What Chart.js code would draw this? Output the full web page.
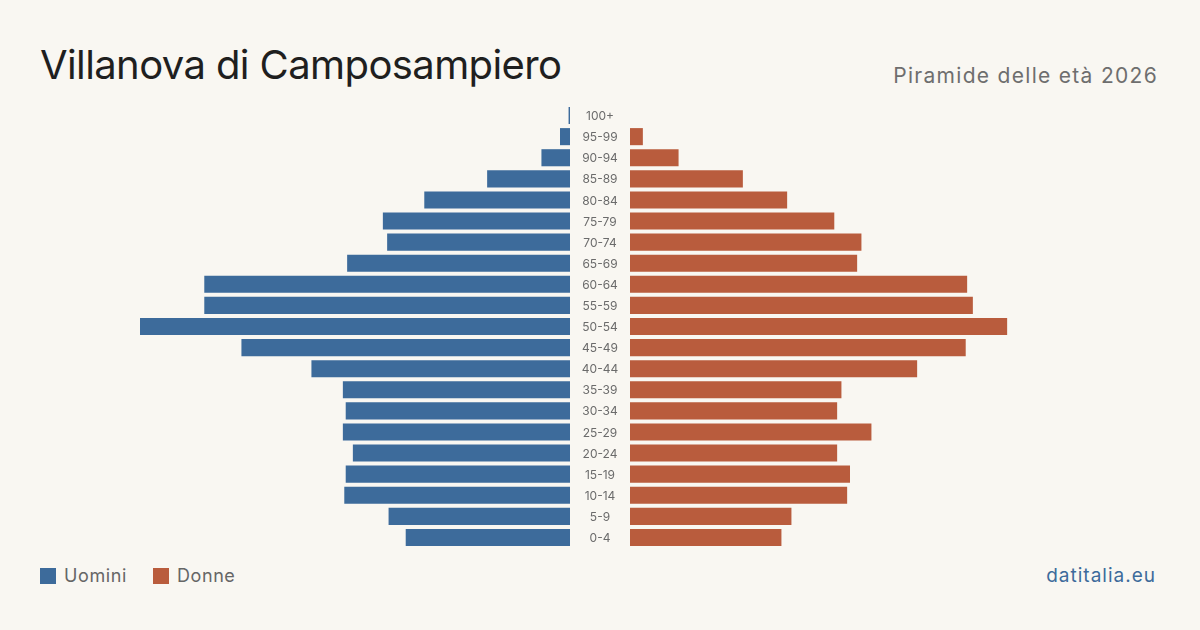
<!DOCTYPE html>
<html>
<head>
<meta charset="utf-8">
<script src="https://cdn.jsdelivr.net/npm/chart.js@4"></script>
<style>
  html, body { margin: 0; padding: 0; background: #f9f7f2; }
  body { width: 1200px; height: 630px; position: relative; overflow: hidden; font-family: Inter, "Noto Sans", sans-serif; }
  #title { position: absolute; left: 40px; top: 40px; font-size: 40px; color: #1f1f1f; letter-spacing: -0.6px; line-height: 50px; white-space: nowrap; }
  #subtitle { position: absolute; right: 42px; top: 62px; font-size: 21px; color: #6e6e6e; line-height: 28px; white-space: nowrap; letter-spacing: 1.3px; }
  #legend { position: absolute; left: 40px; top: 563px; font-size: 18px; color: #666; line-height: 26px; display: flex; align-items: center; letter-spacing: 0.6px; }
  .sw { display: inline-block; width: 16px; height: 16px; margin-right: 8px; }
  .item { display: flex; align-items: center; margin-right: 26px; }
  #source { position: absolute; right: 44px; top: 563px; font-size: 19px; color: #3d6b9b; line-height: 26px; letter-spacing: 1px; }
  .box { position: absolute; top: 105px; height: 443px; }
</style>
</head>
<body>
<div id="title">Villanova di Camposampiero</div>
<div id="subtitle">Piramide delle età 2026</div>
<div class="box" style="left:120px; width:510px;"><canvas id="left"></canvas></div>
<div class="box" style="left:630px; width:450px;"><canvas id="right"></canvas></div>
<div id="legend"></div>
<div id="source">datitalia.eu</div>
<script>
const ageGroups = ["100+","95-99","90-94","85-89","80-84","75-79","70-74","65-69","60-64","55-59","50-54","45-49","40-44","35-39","30-34","25-29","20-24","15-19","10-14","5-9","0-4"];
const men   = [1, 7, 20, 58, 102, 131, 128, 156, 256, 256, 301, 230, 181, 159, 157, 159, 152, 157, 158, 127, 115];
const women = [0, 9, 34, 79, 110, 143, 162, 159, 236, 240, 264, 235, 201, 148, 145, 169, 145, 154, 152, 113, 106];
const seriesNames = ["Uomini", "Donne"];
const colors = ["#3d6b9b", "#b95c3d"];
const axisMax = 315;

const labelPlugin = {
  id: 'centerLabels',
  afterDatasetsDraw(chart) {
    const ctx = chart.ctx;
    const y = chart.scales.y;
    ctx.save();
    ctx.font = '12px Inter, "Noto Sans", sans-serif';
    ctx.fillStyle = '#6b6b6b';
    ctx.textAlign = 'center';
    ctx.textBaseline = 'middle';
    ageGroups.forEach((lab, i) => {
      ctx.fillText(lab, chart.chartArea.right + 30, y.getPixelForValue(i) + 1);
    });
    ctx.restore();
  }
};

function makeChart(id, data, color, label, reverse, extra) {
  return new Chart(document.getElementById(id), {
    type: 'bar',
    data: { labels: ageGroups, datasets: [{ label, data, backgroundColor: color, categoryPercentage: 1, barPercentage: 0.81 }] },
    options: {
      indexAxis: 'y',
      responsive: true,
      maintainAspectRatio: false,
      animation: false,
      layout: { padding: reverse ? { right: 60 } : 0 },
      plugins: { legend: { display: false }, tooltip: { enabled: false } },
      scales: {
        x: { display: false, min: 0, max: axisMax, reverse },
        y: { display: false }
      }
    },
    plugins: extra ? [extra] : []
  });
}
makeChart('left', men, colors[0], seriesNames[0], true, labelPlugin);
makeChart('right', women, colors[1], seriesNames[1], false, null);

const legend = document.getElementById('legend');
seriesNames.forEach((n, i) => {
  const it = document.createElement('span');
  it.className = 'item';
  it.innerHTML = '<span class="sw" style="background:' + colors[i] + '"></span>' + n;
  legend.appendChild(it);
});
</script>
</body>
</html>
